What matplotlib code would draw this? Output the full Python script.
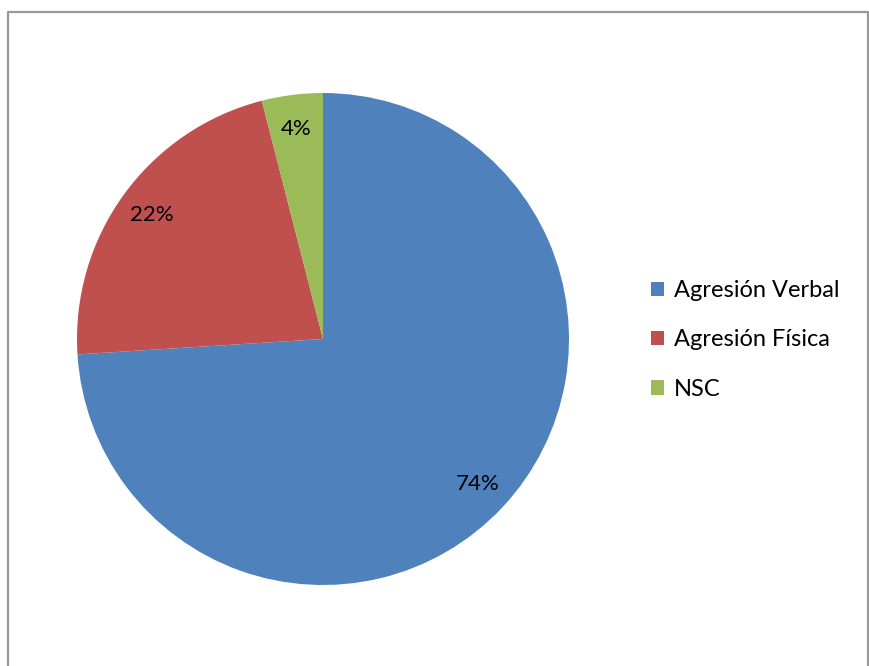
import matplotlib
matplotlib.use("Agg")
import matplotlib.pyplot as plt
from matplotlib.lines import Line2D

# Data
labels = ["Agresión Verbal", "Agresión Física", "NSC"]
values = [74, 22, 4]
colors = ["#4F81BD", "#C0504D", "#9BBB59"]

W, H = 870, 666
plt.rcParams["font.family"] = ["Lato", "DejaVu Sans"]

fig = plt.figure(figsize=(W / 100, H / 100), dpi=100)

# pie area: center (323, 339), radius 246 px
ax = fig.add_axes([77 / W, 81 / H, 492 / W, 492 / H])
wedges, texts, autotexts = ax.pie(
    values,
    colors=colors,
    startangle=90,
    counterclock=False,
    autopct="%1.0f%%",
    pctdistance=0.86,
    textprops={"fontsize": 16, "color": "black"},
)
ax.set_xlim(-1, 1)
ax.set_ylim(-1, 1)
ax.set_aspect("equal")

# chart border
border = Line2D(
    [8.5 / W, 8.5 / W, 868.5 / W, 868.5 / W],
    [0, 1 - 12 / H, 1 - 12 / H, 0],
    transform=fig.transFigure,
    color="#999999",
    linewidth=1.6,
)
fig.add_artist(border)

fig.legend(
    wedges,
    labels,
    loc="center left",
    bbox_to_anchor=(630 / W, 1 - 340 / H),
    frameon=False,
    fontsize=17,
    handlelength=0.55,
    handleheight=0.55,
    handletextpad=0.4,
    labelspacing=1.2,
)

fig.savefig("out.png", dpi=100)
